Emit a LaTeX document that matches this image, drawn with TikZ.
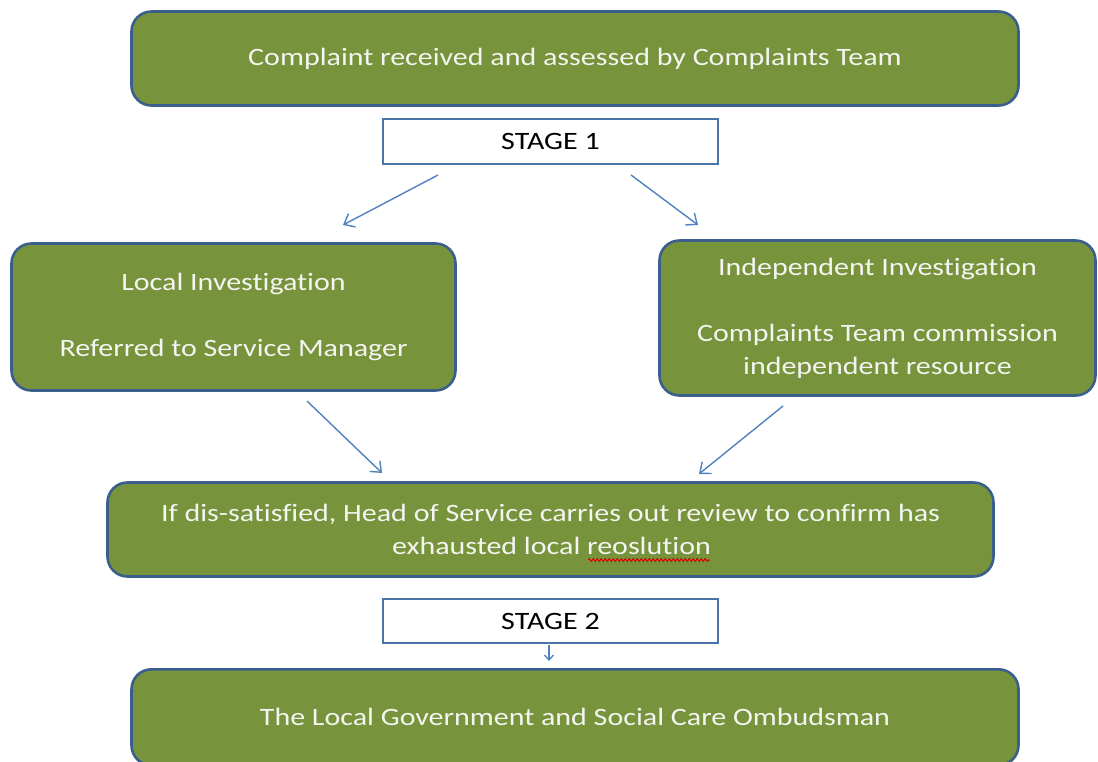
\documentclass[tikz,border=0pt]{standalone}
\usepackage{fontspec}
\setmainfont{Carlito}[FakeStretch=1.2, Ligatures={NoCommon}]
\usetikzlibrary{arrows.meta,decorations.pathmorphing}
\definecolor{boxgreen}{HTML}{77933C}
\definecolor{boxborder}{HTML}{3B5F8C}
\definecolor{arrowblue}{HTML}{4F81BD}
\definecolor{stageborder}{HTML}{4A74A8}
\definecolor{softwhite}{HTML}{F4F4F0}
\tikzset{
  greenbox/.style={draw=boxborder, line width=2.6pt, fill=boxgreen, rounded corners=20pt,
    text=softwhite, align=center, font=\fontsize{25}{33}\selectfont, inner sep=0pt},
  stagebox/.style={draw=stageborder, line width=1.3pt, fill=white, text=black,
    font=\fontsize{25}{33}\selectfont, inner sep=0pt},
  flow/.style={draw=arrowblue, line width=1.4pt, -{Straight Barb[length=9pt,width=15pt,line width=1.4pt]}},
}
\begin{document}
\begin{tikzpicture}[x=1pt,y=-1pt]
\useasboundingbox (0,0) rectangle (1098,761);
\begin{scope}
\clip (0,0) rectangle (1098,761);
\node[greenbox, minimum width=887pt, minimum height=94pt] (top) at (575,58.5) {Complaint received and assessed by Complaints Team};
\node[stagebox, minimum width=335pt, minimum height=45pt] (s1) at (550.5,141.5) {STAGE 1};
\node[greenbox, minimum width=444pt, minimum height=147pt] (left) at (233.5,317) {Local Investigation\\[33pt]Referred to Service Manager};
\node[greenbox, minimum width=436pt, minimum height=155pt] (right) at (877.5,318) {Independent Investigation\\[33pt]Complaints Team commission\\independent resource};
\node[greenbox, minimum width=886pt, minimum height=94pt] (mid) at (550.5,529.5) {If dis-satisfied, Head of Service carries out review to confirm has\\\hspace*{2pt}exhausted local reoslution};
\node[stagebox, minimum width=335pt, minimum height=44pt] (s2) at (550.5,621) {STAGE 2};
\node[greenbox, minimum width=887pt, minimum height=96pt, anchor=north] (bot) at (575,668) {The Local Government and Social Care Ombudsman};
\end{scope}
\coordinate (a1s) at (438,175); \coordinate (a1e) at (343,225);
\coordinate (a2s) at (631,175); \coordinate (a2e) at (698,225);
\coordinate (a3s) at (307,401); \coordinate (a3e) at (382,473);
\coordinate (a4s) at (783,406); \coordinate (a4e) at (699,474);
\coordinate (a5s) at (549,645); \coordinate (a5e) at (549,661);
\draw[flow] (a1s) -- (a1e);
\draw[flow] (a2s) -- (a2e);
\draw[flow] (a3s) -- (a3e);
\draw[flow] (a4s) -- (a4e);
\draw[draw=arrowblue, line width=1.3pt, -{Straight Barb[length=5pt,width=9pt,line width=1.3pt]}] (a5s) -- (a5e);
\coordinate (sq1) at (588,560); \coordinate (sq2) at (710,560);
\draw[red!85!black, line width=1pt, decorate, decoration={snake, amplitude=1.3pt, segment length=4pt}] (sq1) -- (sq2);
\end{tikzpicture}
\end{document}
